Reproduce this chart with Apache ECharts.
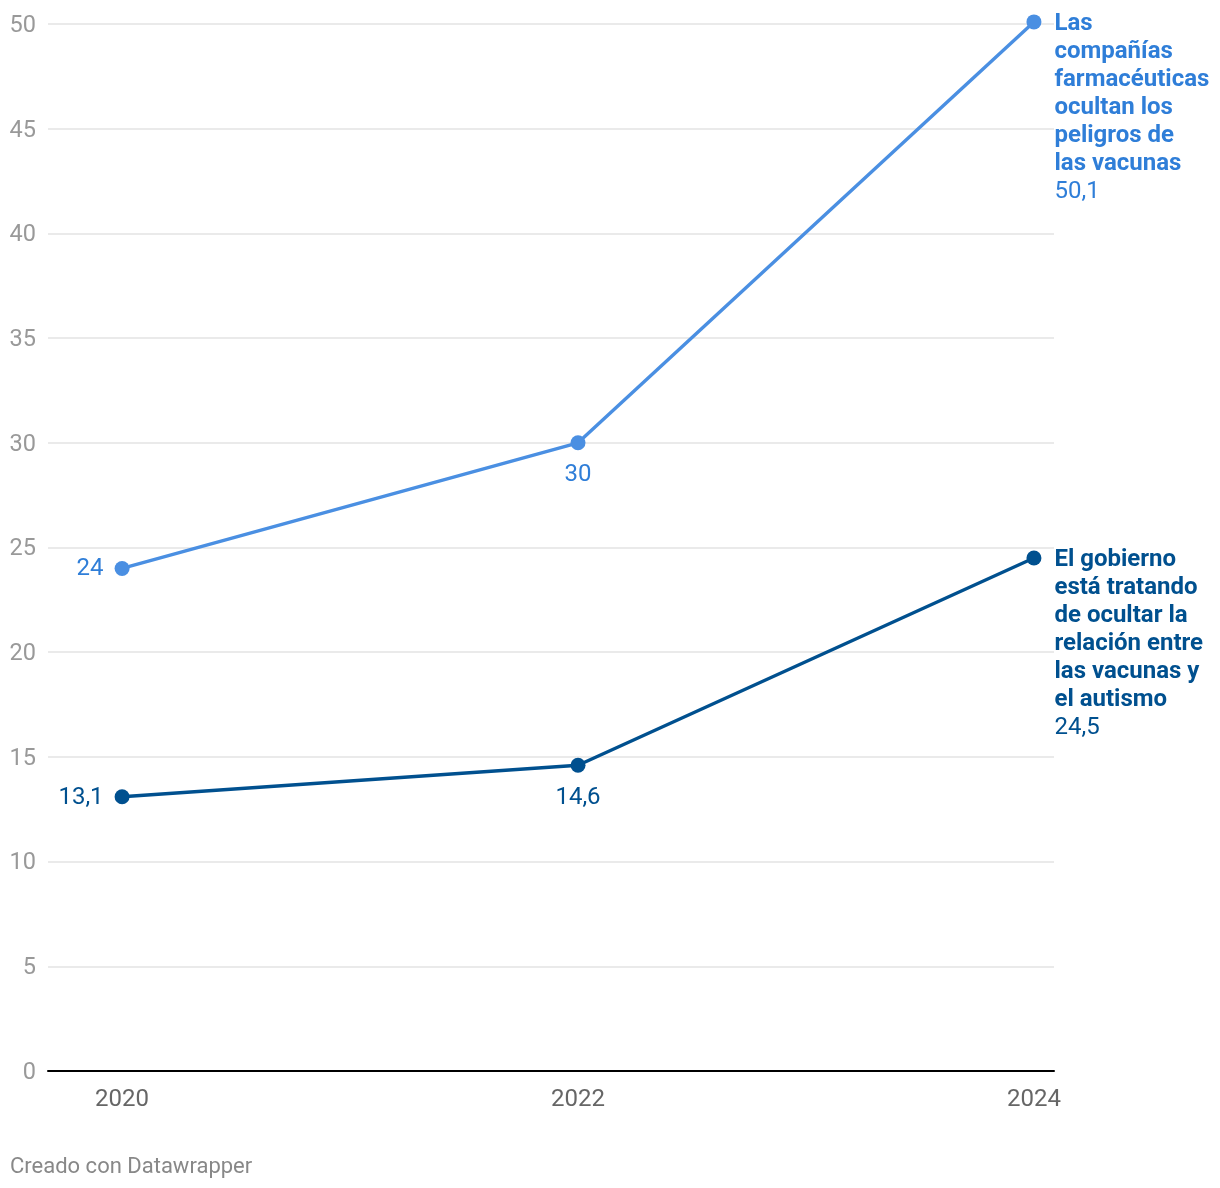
<!DOCTYPE html>
<html>
<head>
<meta charset="utf-8">
<script src="https://cdn.jsdelivr.net/npm/echarts@6/dist/echarts.min.js"></script>
<style>html,body{margin:0;padding:0;background:#fff}#c{width:1220px;height:1188px}</style>
</head>
<body>
<div id="c"></div>
<script>
const years = [2020, 2022, 2024];
const pharmaValues = [24, 30, 50.1];
const autismValues = [13.1, 14.6, 24.5];
const pharmaName = 'Las\ncompañías\nfarmacéuticas\nocultan los\npeligros de\nlas vacunas';
const autismName = 'El gobierno\nestá tratando\nde ocultar la\nrelación entre\nlas vacunas y\nel autismo';
const yTicks = [0, 5, 10, 15, 20, 25, 30, 35, 40, 45, 50];

const fmt = v => String(v).replace('.', ',');

function makeSeries(name, values, lineColor, textColor) {
  const data = values.map((v, i) => {
    const item = { value: [years[i], v] };
    if (i === 0) {
      item.label = { show: true, position: 'left', distance: 11, offset: [0, 1], color: textColor, fontSize: 24, fontFamily: 'Roboto', formatter: () => fmt(v) };
    } else if (i === 1) {
      item.label = { show: true, position: 'bottom', distance: 13, color: textColor, fontSize: 24, fontFamily: 'Roboto', formatter: () => fmt(v) };
    } else {
      item.label = {
        show: true, position: 'right', distance: 13, verticalAlign: 'top', offset: [0, -12],
        fontFamily: 'Roboto',
        formatter: () => '{b|' + name.split('\n').join('}\n{b|') + '}\n{v|' + fmt(v) + '}',
        rich: {
          b: { fontSize: 24, fontWeight: 'bold', color: textColor, lineHeight: 28, fontFamily: 'Roboto' },
          v: { fontSize: 24, color: textColor, lineHeight: 28, fontFamily: 'Roboto' }
        }
      };
    }
    return item;
  });
  return {
    type: 'line', name: name, data: data,
    symbol: 'circle', symbolSize: 15, clip: false,
    lineStyle: { color: lineColor, width: 3.4 },
    itemStyle: { color: lineColor },
    emphasis: { disabled: true },
    z: 3
  };
}

const chart = echarts.init(document.getElementById('c'));
chart.setOption({
  animation: false,
  backgroundColor: '#fff',
  textStyle: { fontFamily: 'Roboto' },
  grid: { left: 48, right: 166, top: 24, bottom: 117, containLabel: false },
  xAxis: {
    type: 'value', min: 2019.675, max: 2024.088,
    axisLine: { show: true, lineStyle: { color: '#000', width: 2 } },
    axisTick: { show: false },
    splitLine: { show: false },
    axisLabel: { customValues: years, color: '#666', fontSize: 24, margin: 17, fontFamily: 'Roboto', formatter: v => String(v) }
  },
  yAxis: {
    type: 'value', min: 0, max: 50, interval: 5,
    axisLine: { show: false }, axisTick: { show: false },
    splitLine: { lineStyle: { color: '#e3e3e3', width: 1.5 } },
    axisLabel: {
      margin: 12,
      formatter: v => yTicks.includes(v) ? '{t|' + v + '}' : '',
      rich: { t: { color: '#999', fontSize: 23.5, fontFamily: 'Roboto', padding: [4, 0, 0, 0] } }
    }
  },
  series: [
    makeSeries(pharmaName, pharmaValues, '#4a8fe2', '#2f7ed8'),
    makeSeries(autismName, autismValues, '#00508f', '#00508f')
  ],
  graphic: [{
    type: 'text', left: 10, top: 1156,
    style: { text: 'Creado con Datawrapper', fill: '#888', fontSize: 22, fontFamily: 'Roboto' }
  }]
});
</script>
</body>
</html>
